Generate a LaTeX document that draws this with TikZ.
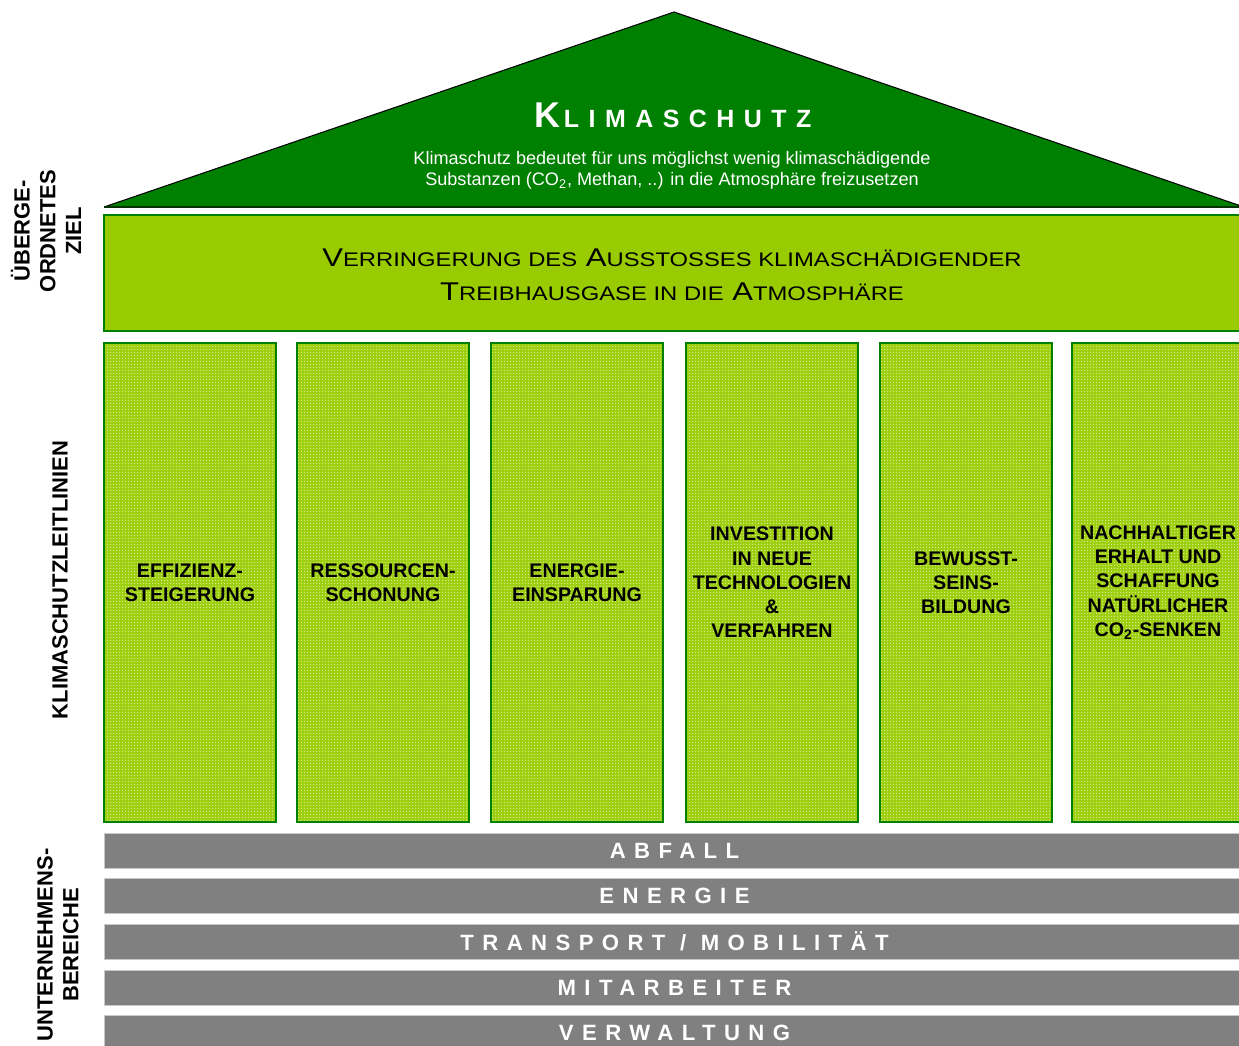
\documentclass[tikz,border=0pt]{standalone}
\usepackage{fontspec}
\usetikzlibrary{patterns}
\setmainfont{Liberation Sans}
\newfontfamily\spaced[LetterSpace=38]{Liberation Sans}
\newfontfamily\bannerfont[FakeStretch=1.21]{Liberation Sans}
\definecolor{roofgreen}{HTML}{008000}
\definecolor{limegreen}{HTML}{99CC00}
\definecolor{pillarbase}{HTML}{9DCE10}
\definecolor{pillardot}{HTML}{D2EA7E}
\definecolor{bargray}{HTML}{808080}
\definecolor{barline}{HTML}{C8C8C8}
\pgfdeclarepatternformonly{finedots}{\pgfpointorigin}{\pgfpoint{1.7pt}{1.7pt}}{\pgfpoint{1.7pt}{1.7pt}}{\pgfpathrectangle{\pgfpointorigin}{\pgfpoint{0.7pt}{0.7pt}}\pgfusepath{fill}}
\newcommand{\scw}[2]{{\fontsize{14.6}{16}\selectfont #1}{\fontsize{11.2}{16}\selectfont #2}}
\tikzset{
  pillar/.style={draw=roofgreen, line width=1.1pt, preaction={fill=pillarbase}, pattern=finedots, pattern color=pillardot, minimum width=3.44cm, minimum height=9.58cm, inner sep=0pt, align=center, font=\fontsize{11.2}{13.8}\selectfont\bfseries},
  bar/.style={draw=barline, line width=0.4pt, fill=bargray, minimum width=22.82cm, minimum height=0.7cm, inner sep=0pt, text=white, font=\spaced\fontsize{12.6}{14}\selectfont\bfseries},
  sidelabel/.style={rotate=90, align=center, font=\fontsize{12.5}{14.7}\selectfont\bfseries},
}
\begin{document}
\begin{tikzpicture}[x=0.02cm,y=-0.02cm]
\useasboundingbox (0,0) rectangle (1239,1045);
% roof
\coordinate (roofL) at (104,207);
\coordinate (roofT) at (674,12);
\coordinate (roofR) at (1244,207);
\fill[roofgreen] (roofL) -- (roofT) -- (roofR) -- cycle;
\draw[black, line width=0.6pt] (roofL) -- (roofT) -- (roofR);
\draw[black!60!roofgreen, line width=1pt] (roofL) -- (roofR);
\node[text=white, inner sep=0pt] (title) at (673,115) {\spaced\bfseries{\fontsize{20.4}{24}\selectfont K\kern2pt}{\fontsize{14.2}{24}\selectfont LIMASCHUTZ}};
\node[text=white, align=center, inner sep=0pt, font=\fontsize{10.3}{12}\selectfont] (subtitle) at (672,170) {Klimaschutz bedeutet für uns möglichst wenig klimaschädigende\\ Substanzen (CO\textsubscript{2}, Methan, ..) in die Atmosphäre freizusetzen};
% banner
\node[draw=roofgreen, line width=1.1pt, fill=limegreen, minimum width=22.82cm, minimum height=2.32cm, inner sep=0pt] (banner) at (674.5,273) {};
\node[align=center, inner sep=0pt, font=\bannerfont\fontsize{14.6}{19.3}\selectfont] (goal) at (672,275) {\scw{V}{ERRINGERUNG DES} \scw{A}{USSTOSSES KLIMASCHÄDIGENDER}\\\scw{T}{REIBHAUSGASE IN DIE} \scw{A}{TMOSPHÄRE}};
% pillars
\node[pillar] (p1) at (190,582.5) {EFFIZIENZ-\\STEIGERUNG};
\node[pillar] (p2) at (383,582.5) {RESSOURCEN-\\SCHONUNG};
\node[pillar] (p3) at (577,582.5) {ENERGIE-\\EINSPARUNG};
\node[pillar] (p4) at (772,582.5) {INVESTITION\\IN NEUE\\TECHNOLOGIEN\\\&\\VERFAHREN};
\node[pillar] (p5) at (966,582.5) {BEWUSST-\\SEINS-\\BILDUNG};
\node[pillar] (p6) at (1158,582.5) {NACHHALTIGER\\ERHALT UND\\SCHAFFUNG\\NATÜRLICHER\\CO\textsubscript{2}-SENKEN};
% bars
\node[bar] (b1) at (674.5,850.5) {ABFALL};
\node[bar] (b2) at (674.5,896) {ENERGIE};
\node[bar] (b3) at (674.5,941.5) {TRANSPORT / MOBILITÄT};
\node[bar] (b4) at (674.5,987.5) {MITARBEITER};
\node[bar] (b5) at (674.5,1032.5) {VERWALTUNG};
% side labels
\node[sidelabel] (l1) at (46,231) {ÜBERGE-\\ORDNETES\\ZIEL};
\node[sidelabel] (l2) at (60,580) {KLIMASCHUTZLEITLINIEN};
\node[sidelabel] (l3) at (58,945) {UNTERNEHMENS-\\BEREICHE};
\end{tikzpicture}
\end{document}
